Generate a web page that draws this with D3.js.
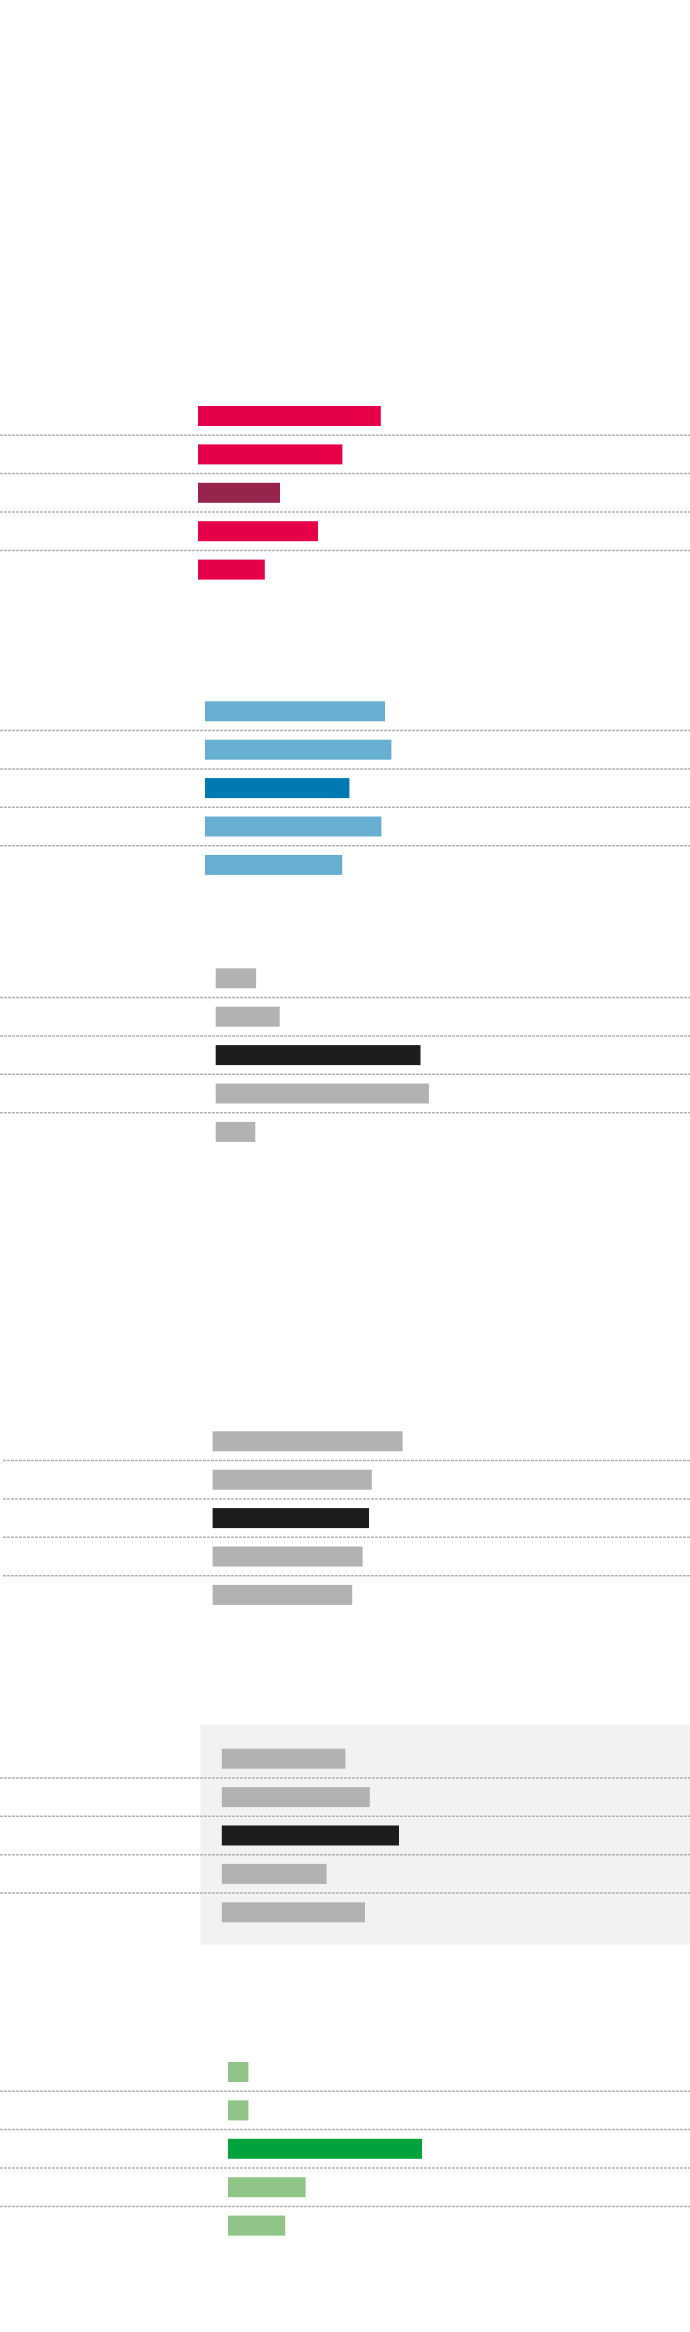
<!DOCTYPE html>
<html>
<head>
<meta charset="utf-8">
<script src="https://cdn.jsdelivr.net/npm/d3@7"></script>
<style>
  html, body { margin: 0; padding: 0; background: #fff; }
  svg { display: block; }
</style>
</head>
<body>
<svg id="chart" width="690" height="2332"></svg>
<script>
// rows of every block (no labels are shown in the picture)
var rows = ["r1", "r2", "r3", "r4", "r5"];

// bar values per block
var values1 = [45.7, 36.1, 20.5, 30.0, 16.7];
var values2 = [45.0, 46.6, 36.1, 44.1, 34.3];
var values3 = [10.1, 16.0, 51.2, 53.3, 9.9];
var values4 = [47.5, 39.8, 39.1, 37.5, 34.9];
var values5 = [30.9, 37.0, 44.3, 26.2, 35.8];
var values6 = [5.1, 5.1, 48.5, 19.4, 14.3];

// highlighted row in each block
var highlight = "r3";

// layout and colours of each block
var blocks = [
    { values: values1, left: 198,   top: 406,    base: "#e6004a", hi: "#97244d", lineX: 0 },
    { values: values2, left: 205,   top: 701.3,  base: "#67afd1", hi: "#0079b2", lineX: 0 },
    { values: values3, left: 215.7, top: 968.3,  base: "#b2b2b2", hi: "#1d1d1b", lineX: 0 },
    { values: values4, left: 212.6, top: 1431.3, base: "#b2b2b2", hi: "#1d1d1b", lineX: 3 },
    { values: values5, left: 221.8, top: 1748.7, base: "#b2b2b2", hi: "#1d1d1b", lineX: 0, panel: true },
    { values: values6, left: 228,   top: 2062,   base: "#8fc687", hi: "#00a33b", lineX: 0 }
];

var svgWidth = 690;
var barHeight = 20;
var step = 38.4;

var svg = d3.select("#chart");

// same value scale for every block
var xScale = d3.scaleLinear().domain([0, 100]).range([0, 400]);

// band scale for the five rows of a block
var yScale = d3.scaleBand()
    .domain(rows)
    .range([0, (rows.length - 1) * step + barHeight])
    .paddingInner(1 - barHeight / step)
    .paddingOuter(0);

blocks.forEach(function (b) {
    var g = svg.append("g")
        .attr("transform", "translate(" + b.left + "," + b.top + ")");

    var bw = yScale.bandwidth();
    var gap = yScale.step() - bw;

    // grey panel behind the fifth block
    if (b.panel) {
        g.append("rect")
            .attr("x", -21.3)
            .attr("y", -24.2)
            .attr("width", svgWidth - b.left + 21.3)
            .attr("height", yScale.range()[1] + 24.2 + 22.3)
            .attr("fill", "#f2f2f2");
    }

    // dotted separators between rows
    g.selectAll(".sep")
        .data(rows.slice(0, rows.length - 1))
        .enter().append("line")
        .attr("class", "sep")
        .attr("x1", b.lineX - b.left)
        .attr("x2", svgWidth - b.left)
        .attr("y1", d => yScale(d) + bw + gap / 2)
        .attr("y2", d => yScale(d) + bw + gap / 2)
        .attr("stroke", "#b3b3b3")
        .attr("stroke-width", 1.5)
        .attr("stroke-dasharray", "3,1");

    // bars
    g.selectAll(".bar")
        .data(rows.map((r, i) => ({ row: r, value: b.values[i] })))
        .enter().append("rect")
        .attr("class", "bar")
        .attr("x", 0)
        .attr("y", d => yScale(d.row))
        .attr("width", d => xScale(d.value))
        .attr("height", bw)
        .attr("fill", d => d.row === highlight ? b.hi : b.base);
});
</script>
</body>
</html>
